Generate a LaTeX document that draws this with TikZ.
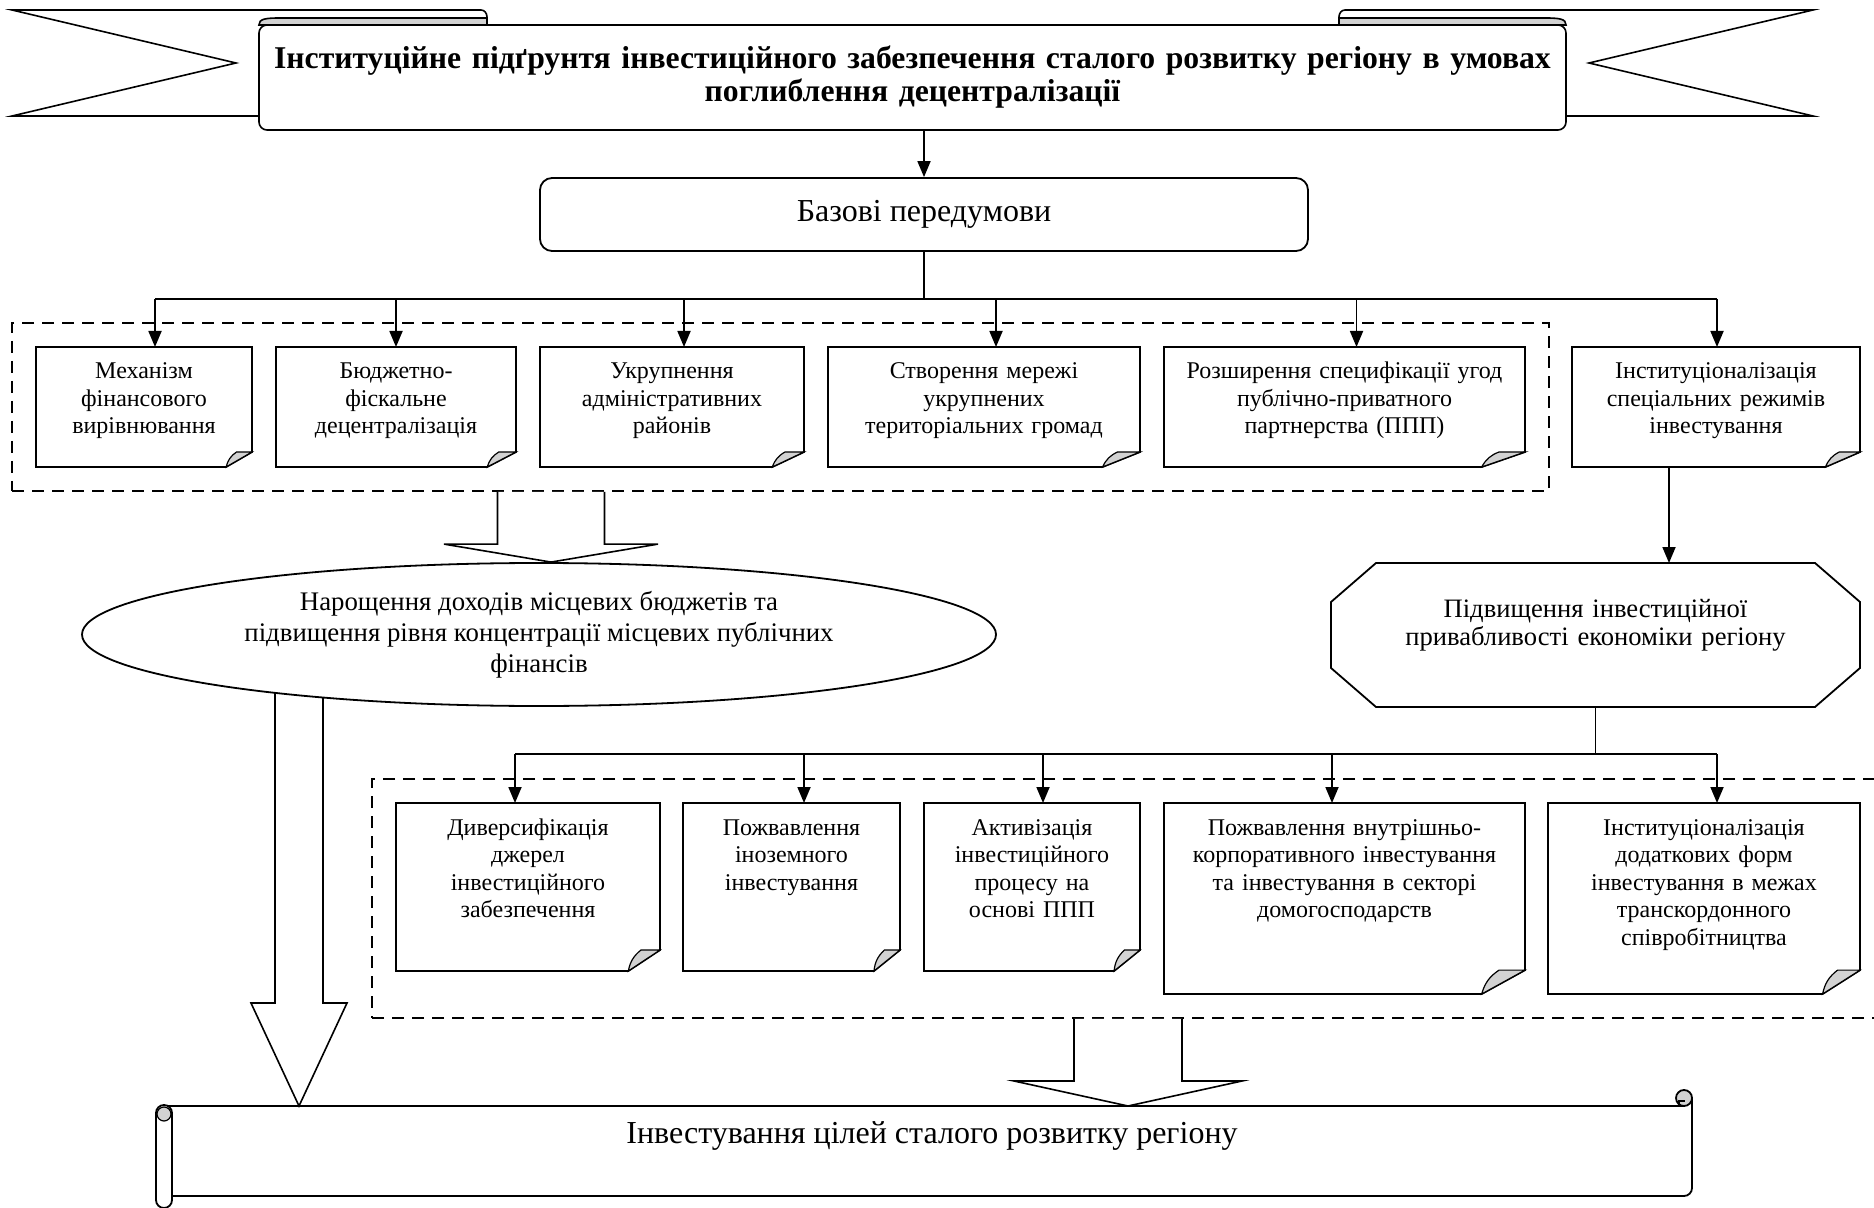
\documentclass[tikz,border=0pt]{standalone}
\usepackage{fontspec}
\setmainfont{Liberation Serif}
\usepackage{tikz}
\usetikzlibrary{arrows.meta, positioning, calc, fit, shapes.geometric}

\newcommand\foldcorner[1]{%
  \draw[boxline] (#1.north west) -- (#1.north east)
    -- ($(#1.south east)!0.125!(#1.north east)$) coordinate (#1-a)
    -- ($(#1.south east)!0.12!(#1.south west)$) coordinate (#1-b)
    -- (#1.south west) -- cycle;
  \draw[line width=0.6pt, fill=gray!35] (#1-b) -- (#1-a)
    -- ($(#1-a)!0.6!(#1-a -| #1-b)$) to[bend right=20] (#1-b) -- cycle;}

\newcommand\fatarrow[5]{%
  \draw[fatline] let \p1=#1, \p2=#2 in
    (\x1-#3,\y2) -- (\x1-#3,\y1+#5) -- (\x1-#4,\y1+#5) -- (\x1,\y1)
    -- (\x1+#4,\y1+#5) -- (\x1+#3,\y1+#5) -- (\x1+#3,\y2);}

\begin{document}
\begin{tikzpicture}[x=0.5pt, y=-0.5pt,
    boxline/.style={line width=0.9pt},
    ribbon/.style={line width=0.8pt},
    conn/.style={line width=0.9pt},
    arr/.style={conn, -{Triangle[length=8pt, width=6.5pt]}},
    fatline/.style={line width=0.8pt, fill=white},
    dashbox/.style={draw, line width=0.8pt, dash pattern=on 6pt off 4pt, inner sep=12pt},
    doc/.style 2 args={anchor=north west, inner xsep=4pt, inner ysep=0pt, outer sep=0pt,
      text width=#1, text height=16pt, text depth=#2, align=center,
      font=\fontsize{12}{13.75}\selectfont},
    titlebox/.style={draw, ribbon, fill=white, rounded corners=4pt, inner sep=0pt,
      minimum width=653.5pt, minimum height=52.5pt, text width=646pt, align=center,
      font=\bfseries\fontsize{15.85}{16.5}\selectfont},
    basebox/.style={draw, boxline, rounded corners=6pt, minimum width=384pt,
      minimum height=36.5pt, font=\fontsize{16}{18}\selectfont},
    oktbox/.style={anchor=north, inner sep=0pt, outer sep=0pt, minimum width=264.5pt,
      text width=240pt, text height=27pt, text depth=45pt, align=center,
      font=\fontsize{13.3}{14}\selectfont},
    ovalbox/.style={draw, boxline, ellipse, fill=white, inner sep=0pt,
      minimum width=457pt, minimum height=71.5pt, align=center,
      font=\fontsize{13.4}{15.5}\selectfont},
    scrollbox/.style={anchor=north west, inner sep=0pt, outer sep=0pt,
      minimum width=760pt, text height=18.5pt, text depth=26.5pt,
      font=\fontsize{16}{19}\selectfont}]

  \path[use as bounding box, fill=white] (0,0) rectangle (1874,1208);

  \draw[ribbon] (259,116) -- (12,116) -- (236,63) -- (12,10) -- (481,10) to[out=0,in=90] (487,17) -- (487,25);
  \draw[ribbon] (1566,116) -- (1813,116) -- (1589,63) -- (1813,10) -- (1345,10) to[out=180,in=90] (1339,17) -- (1339,25);
  \node[titlebox] (title) at (912.5,77.5) {Інституційне підґрунтя інвестиційного забезпечення сталого розвитку регіону в умовах\\ поглиблення децентралізації};
  \draw[ribbon, fill=gray!35] (259,25) .. controls (259,19) and (265,18) .. (280,18) -- (487,18) -- (487,25) -- cycle;
  \draw[ribbon, fill=gray!35] (1566,25) .. controls (1566,19) and (1560,18) .. (1545,18) -- (1339,18) -- (1339,25) -- cycle;

  \node[basebox] (base) at (924,214.5) {Базові передумови};
  \draw[arr] (title.south -| base.north) -- (base.north);

  \node[doc={100pt}{44pt}] (b1) at (36,347) {Механізм\\ фінансового\\ вирівнювання};
  \node[doc={112pt}{44pt}] (b2) at (276,347) {Бюджетно-\\ фіскальне\\ децентралізація};
  \node[doc={124pt}{44pt}] (b3) at (540,347) {Укрупнення\\ адміністративних\\ районів};
  \node[doc={148pt}{44pt}] (b4) at (828,347) {Створення мережі\\ укрупнених\\ територіальних громад};
  \node[doc={172.5pt}{44pt}] (b5) at (1164,347) {Розширення специфікації угод\\ публічно-приватного\\ партнерства (ППП)};
  \node[doc={136pt}{44pt}] (b6) at (1572,347) {Інституціоналізація\\ спеціальних режимів\\ інвестування};
  \foreach \n in {b1,b2,b3,b4,b5,b6} \foldcorner{\n};
  \node[dashbox, fit=(b1)(b5)] (dash1) {};

  \coordinate (split1) at ($(base.south)+(0,-23.5pt)$);
  \foreach \n/\s in {b1/5.5pt, b2/0pt, b3/6pt, b4/6pt, b5/6pt, b6/0.5pt}
    \coordinate (\n-in) at ([xshift=\s]\n.north);
  \draw[conn] (base.south) -- (split1);
  \draw[conn] (split1 -| b1-in) -- (split1 -| b6-in);
  \foreach \n in {b1,b2,b3,b4,b5,b6} \draw[arr] (split1 -| \n-in) -- (\n-in);

  \node[oktbox] (okt) at (1595.5,563) {Підвищення інвестиційної\\ привабливості економіки регіону};
  \draw[boxline] ([xshift=22.5pt]okt.north west) -- ([xshift=-22.5pt]okt.north east)
    -- ([yshift=-19.5pt]okt.north east) -- ([yshift=19.5pt]okt.south east)
    -- ([xshift=-22.5pt]okt.south east) -- ([xshift=22.5pt]okt.south west)
    -- ([yshift=19.5pt]okt.south west) -- ([yshift=-19.5pt]okt.north west) -- cycle;
  \coordinate (b6out) at ([xshift=-23.5pt]b6.south);
  \draw[arr] (b6out) -- (b6out |- okt.north);

  \node[doc={124pt}{68pt}] (r1) at (396,803) {Диверсифікація\\ джерел\\ інвестиційного\\ забезпечення};
  \node[doc={100.5pt}{68pt}] (r2) at (683,803) {Пожвавлення\\ іноземного\\ інвестування};
  \node[doc={100pt}{68pt}] (r3) at (924,803) {Активізація\\ інвестиційного\\ процесу на\\ основі ППП};
  \node[doc={172.5pt}{79.5pt}] (r4) at (1164,803) {Пожвавлення внутрішньо-\\ корпоративного інвестування\\ та інвестування в секторі\\ домогосподарств};
  \node[doc={148pt}{79.5pt}] (r5) at (1548,803) {Інституціоналізація\\ додаткових форм\\ інвестування в межах\\ транскордонного\\ співробітництва};
  \foreach \n in {r1,r2,r3,r4,r5} \foldcorner{\n};
  \node[dashbox, fit=(r1)(r5)] (dash2) {};

  \coordinate (split2) at ($(okt.south)+(0,-23.5pt)$);
  \foreach \n/\s in {r1/-6.5pt, r2/6.25pt, r3/5.5pt, r4/-6.25pt, r5/6.5pt}
    \coordinate (\n-in) at ([xshift=\s]\n.north);
  \draw[conn] (okt.south) -- (split2);
  \draw[conn] (split2 -| r1-in) -- (split2 -| r5-in);
  \foreach \n in {r1,r2,r3,r4,r5} \draw[arr] (split2 -| \n-in) -- (\n-in);

  \node[scrollbox] (scroll) at (172,1106) {Інвестування цілей сталого розвитку регіону};
  \draw[boxline] (164,1106) -- (1684,1106);
  \draw[boxline, rounded corners=4pt] (1692,1098) -- (1692,1196) -- (172,1196);
  \draw[boxline, fill=gray!35] (1684,1098) circle (4pt);
  \draw[line width=0.6pt] (1679,1106) -- (1679,1101) -- (1685,1101);
  \draw[boxline, fill=white, rounded corners=4pt] (156,1105) rectangle (172,1208);
  \draw[line width=0.6pt, fill=gray!35] (164,1114) circle (3.5pt);

  \coordinate (ovalmid) at (539,634.5);
  \fatarrow{($(scroll.north west)+(63.5pt,0)$)}{(ovalmid)}{12pt}{24pt}{51.5pt}
  \node[ovalbox] (narost) at (ovalmid) {Нарощення доходів місцевих бюджетів та\\ підвищення рівня концентрації місцевих публічних\\ фінансів};
  \fatarrow{($(narost.north)+(6pt,0)$)}{(dash1.south)}{26.75pt}{53.5pt}{9pt}
  \fatarrow{($(scroll.north)+(98pt,0)$)}{(dash2.south)}{27pt}{57pt}{12.5pt}
\end{tikzpicture}
\end{document}
